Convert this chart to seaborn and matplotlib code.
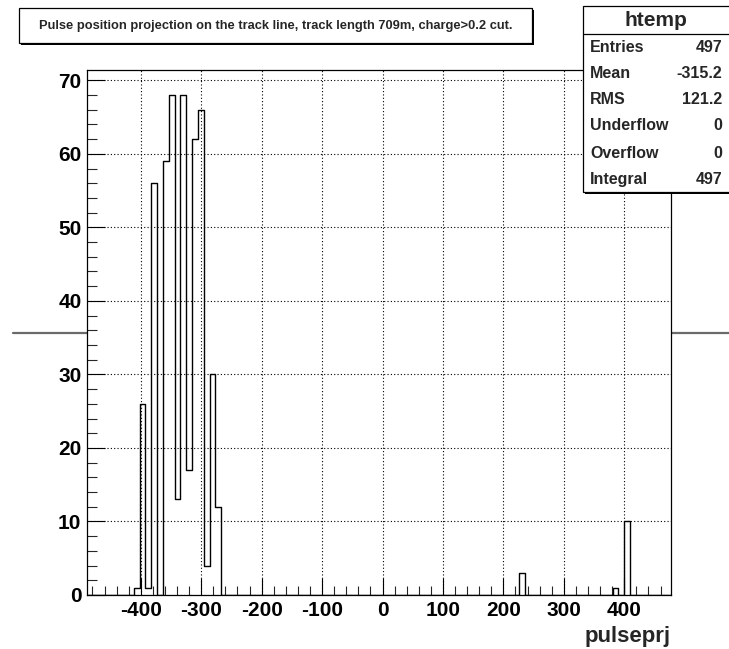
import numpy as np
import pandas as pd
import matplotlib
matplotlib.use("Agg")
import matplotlib.pyplot as plt
from matplotlib.patches import Rectangle
from matplotlib.lines import Line2D
from matplotlib.ticker import MultipleLocator
import seaborn as sns

# ---- data ----
pulse_positions = [-406.9, -397.2, -387.5, -377.9, -358.6, -348.9, -339.3, -329.6,
                   -319.9, -310.3, -300.6, -291.0, -281.3, -271.6, 231.9, 386.5, 405.8]
pulse_counts = [1, 26, 1, 56, 59, 68, 13, 68, 17, 62, 66, 4, 30, 12, 3, 1, 10]
hist_range = (-489.0, 477.3)
n_bins = 100
title_text = "Pulse position projection on the track line, track length 709m, charge>0.2 cut."
stats_name = "htemp"
stats_labels = ["Entries", "Mean", "RMS", "Underflow", "Overflow", "Integral"]
stats_values = ["497", "-315.2", "121.2", "0", "0", "497"]
x_label = "pulseprj"
x_ticks = [-400, -300, -200, -100, 0, 100, 200, 300, 400]
y_ticks = [0, 10, 20, 30, 40, 50, 60, 70]

df = pd.DataFrame({"pulseprj": pulse_positions, "count": pulse_counts})

sns.set_theme(style="white")
plt.rcParams["font.family"] = ["Liberation Sans", "DejaVu Sans"]
plt.rcParams["font.weight"] = "bold"

W, H = 729, 649
fig = plt.figure(figsize=(W / 100, H / 100), dpi=100)
fig.patch.set_facecolor("white")

def fx(px):
    return px / W

def fy(py):
    return 1 - py / H

ax_l, ax_r, ax_t, ax_b = 87, 671, 70, 595
ax = fig.add_axes([fx(ax_l), fy(ax_b), fx(ax_r - ax_l), (ax_b - ax_t) / H])
ax.set_facecolor("white")

sns.histplot(data=df, x="pulseprj", weights="count", bins=n_bins, binrange=hist_range,
             element="step", fill=False, color="black", linewidth=1.0, ax=ax)

ax.set_xlim(*hist_range)
ax.set_ylim(0, 68 * 1.05)
ax.set_xticks(x_ticks)
ax.set_yticks(y_ticks)
ax.set_xticklabels([str(v) for v in x_ticks])
ax.set_yticklabels([str(v) for v in y_ticks])
ax.xaxis.set_minor_locator(MultipleLocator(20))
ax.yaxis.set_minor_locator(MultipleLocator(2))
ax.tick_params(axis="x", which="major", direction="in", length=12.5, width=0.8,
               labelsize=15, pad=4, colors="black", bottom=True, top=False)
ax.tick_params(axis="x", which="minor", direction="in", length=6.2, width=0.8,
               bottom=True, top=False)
ax.tick_params(axis="y", which="major", direction="in", length=13, width=0.8,
               labelsize=15, pad=4, colors="black", left=True, right=False)
ax.tick_params(axis="y", which="minor", direction="in", length=7, width=0.8,
               left=True, right=False)
for lab in ax.get_xticklabels() + ax.get_yticklabels():
    lab.set_fontweight("bold")

ax.grid(True, which="major", color="black", linestyle=(0, (1, 2)), linewidth=0.8)
for s in ax.spines.values():
    s.set_color("black")
    s.set_linewidth(0.9)
    s.set_visible(True)

ax.set_ylabel("")
ax.set_xlabel("")
fig.text(fx(ax_r), fy(642), x_label, ha="right", va="baseline",
         fontsize=16, fontweight="bold")

# horizontal line behind the frame
fig.add_artist(Line2D([fx(13), fx(729)], [fy(333), fy(333)], color="#6a6a6a",
                      linewidth=1.6, zorder=-1))

# title pave with shadow
tl, tt, tr, tb = 19, 8, 532, 43
fig.add_artist(Rectangle((fx(tl + 2), fy(tb + 2)), fx(tr - tl), (tb - tt) / H,
                         facecolor="black", edgecolor="none", zorder=5))
fig.add_artist(Rectangle((fx(tl), fy(tb)), fx(tr - tl), (tb - tt) / H,
                         facecolor="white", edgecolor="black", linewidth=0.9, zorder=6))
fig.text(fx((tl + tr) / 2), fy((tt + tb) / 2), title_text, ha="center", va="center",
         fontsize=9.3, fontweight="bold", zorder=7)

# stats pave
sl, st, sr, sb = 583, 6, 735, 192
fig.add_artist(Rectangle((fx(sl + 2), fy(sb + 2)), fx(sr - sl), (sb - st) / H,
                         facecolor="black", edgecolor="none", zorder=5))
fig.add_artist(Rectangle((fx(sl), fy(sb)), fx(sr - sl), (sb - st) / H,
                         facecolor="white", edgecolor="black", linewidth=0.9, zorder=6))
fig.add_artist(Line2D([fx(sl), fx(729)], [fy(34), fy(34)], color="black",
                      linewidth=0.9, zorder=7))
fig.text(fx(656), fy(20), stats_name, ha="center", va="center", fontsize=15,
         fontweight="bold", zorder=7)
row_y = [47, 73, 100, 126, 153, 179]
for yy, lab, val in zip(row_y, stats_labels, stats_values):
    fig.text(fx(590), fy(yy), lab, ha="left", va="center", fontsize=11.5,
             fontweight="bold", zorder=7)
    fig.text(fx(722), fy(yy), val, ha="right", va="center", fontsize=11.5,
             fontweight="bold", zorder=7)

fig.savefig("out.png", dpi=100, facecolor="white")
